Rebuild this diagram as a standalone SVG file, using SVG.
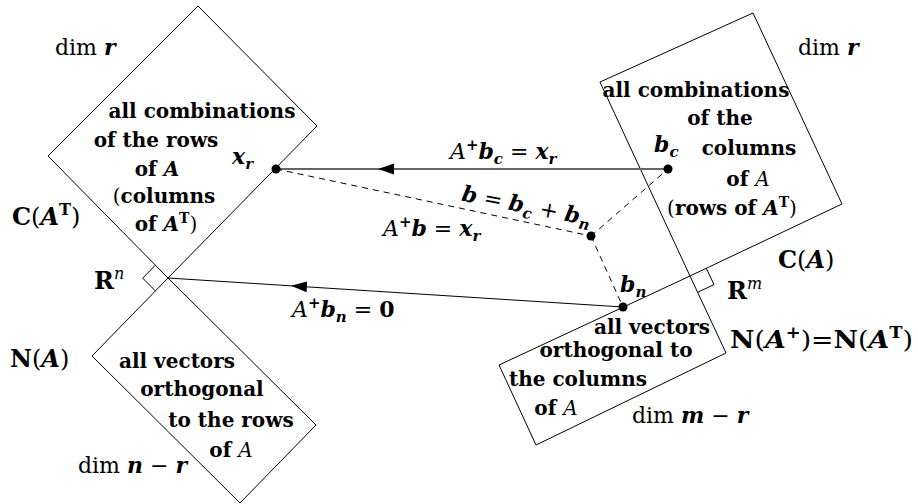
<svg xmlns="http://www.w3.org/2000/svg" width="918" height="504" viewBox="0 0 918 504">
<defs>
<style>
text{font-family:"DejaVu Serif","Liberation Serif",serif;font-size:20px;fill:#000}
.bx{font-weight:bold;text-anchor:middle}
.b{font-weight:bold}
.it{font-style:italic;font-weight:normal}
.bi{font-weight:bold;font-style:italic}
.rm{font-weight:normal;font-style:normal}
.s{font-size:14px}
.lab{font-size:24px;font-weight:bold}
.lab .s{font-size:16px}
.m{font-size:22px}
.m .s{font-size:15px}
.dim{font-size:22px}
.shape{fill:none;stroke:#000;stroke-width:1}
.conn{fill:none;stroke:#000;stroke-width:1}
.gray{stroke:#666;stroke-width:2}
.dash{fill:none;stroke:#000;stroke-width:1;stroke-dasharray:6 5}
.dot{fill:#000}
</style>
<marker id="arr" markerWidth="18" markerHeight="14" refX="16" refY="7" orient="auto" markerUnits="userSpaceOnUse">
<path d="M0,1.5 L16,7 L0,12.5 Z" fill="#000"/>
</marker>
</defs>
<rect width="918" height="504" fill="#fff"/>

<g id="row-space">
<polygon class="shape" points="198,6 317,126 168,278 48,156"/>
<text class="bx" x="202" y="118">all combinations</text>
<text class="bx" x="156" y="147">of the rows</text>
<text class="bx" x="157" y="176">of <tspan class="bi">A</tspan></text>
<text class="bx" x="164" y="203"><tspan class="rm">(</tspan>columns</text>
<text class="bx" x="166" y="231">of <tspan class="bi">A</tspan><tspan class="s" dy="-8">T</tspan><tspan class="rm" dy="8">)</tspan></text>
<text class="dim" x="55" y="55">dim <tspan class="bi">r</tspan></text>
<text class="lab" x="12" y="225">C<tspan class="rm">(</tspan><tspan class="bi">A</tspan><tspan class="s" dy="-10">T</tspan><tspan class="rm" dy="10">)</tspan></text>
</g>

<g id="null-space">
<polygon class="shape" points="168,278 316,425 240,503 92,356"/>
<polyline class="shape" points="155.4,265.2 142.7,278.2 155.4,290.9"/>
<text class="bx" x="177" y="368">all vectors</text>
<text class="bx" x="202" y="396">orthogonal</text>
<text class="bx" x="231" y="427">to the rows</text>
<text class="bx" x="231" y="457">of <tspan class="it">A</tspan></text>
<text class="dim" x="78" y="473">dim <tspan class="bi">n</tspan> − <tspan class="bi">r</tspan></text>
<text class="lab" x="10" y="367">N<tspan class="rm">(</tspan><tspan class="bi">A</tspan><tspan class="rm">)</tspan></text>
<text class="lab" x="94" y="289">R<tspan class="it s" dy="-10">n</tspan></text>
</g>

<g id="column-space">
<polygon class="shape" points="600,82 753,13 842,204 690,276"/>
<text class="bx" x="696" y="97">all combinations</text>
<text class="bx" x="720" y="125">of the</text>
<text class="bx" x="749" y="155">columns</text>
<text class="bx" x="748" y="186">of <tspan class="it">A</tspan></text>
<text class="bx" x="732" y="215"><tspan class="rm">(</tspan>rows of <tspan class="bi">A</tspan><tspan class="s" dy="-8">T</tspan><tspan class="rm" dy="8">)</tspan></text>
<text class="dim" x="798" y="55">dim <tspan class="bi">r</tspan></text>
<text class="lab" x="778" y="268">C<tspan class="rm">(</tspan><tspan class="bi">A</tspan><tspan class="rm">)</tspan></text>
</g>

<g id="left-null-space">
<polygon class="shape" points="690,276 726,353 536,445 499,365"/>
<polyline class="shape" points="706.3,268.3 714,284.6 697.6,292.3"/>
<text class="bx" x="652" y="334">all vectors</text>
<text class="bx" x="616" y="357">orthogonal to</text>
<text class="bx" x="578" y="386">the columns</text>
<text class="bx" x="556" y="415">of <tspan class="it">A</tspan></text>
<text class="dim" x="632" y="423">dim <tspan class="bi">m</tspan> − <tspan class="bi">r</tspan></text>
<text class="lab" x="727" y="299">R<tspan class="it s" dy="-10">m</tspan></text>
<text class="lab" x="730" y="348" textLength="183" lengthAdjust="spacingAndGlyphs">N<tspan class="rm">(</tspan><tspan class="bi">A</tspan><tspan class="s" dy="-10">+</tspan><tspan class="rm" dy="10">)=</tspan>N<tspan class="rm">(</tspan><tspan class="bi">A</tspan><tspan class="s" dy="-10">T</tspan><tspan class="rm" dy="10">)</tspan></text>
</g>

<g id="connectors">
<path class="conn gray" d="M668,169 L378,169 L276,169" marker-mid="url(#arr)"/>
<path class="conn" d="M623,307 L291,285.84 L168,278" marker-mid="url(#arr)"/>
<path class="dash" d="M276,169 L591,236"/>
<path class="dash" d="M591,236 L668,169"/>
<path class="dash" d="M591,236 L623,307"/>
<text class="m" x="450" y="159"><tspan class="it">A</tspan><tspan class="b s" dy="-9">+</tspan><tspan class="bi" dy="9">b</tspan><tspan class="bi s" dy="5">c</tspan><tspan dy="-5"> = </tspan><tspan class="bi">x</tspan><tspan class="bi s" dy="5">r</tspan></text>
<text class="m" x="383" y="236"><tspan class="it">A</tspan><tspan class="b s" dy="-9">+</tspan><tspan class="bi" dy="9">b</tspan><tspan> = </tspan><tspan class="bi">x</tspan><tspan class="bi s" dy="5">r</tspan></text>
<text class="m" x="292" y="317"><tspan class="it">A</tspan><tspan class="b s" dy="-9">+</tspan><tspan class="bi" dy="9">b</tspan><tspan class="bi s" dy="5">n</tspan><tspan dy="-5"> = </tspan><tspan class="b">0</tspan></text>
<text class="m" x="525" y="213" text-anchor="middle" transform="rotate(11 525 213)"><tspan class="bi">b</tspan> = <tspan class="bi">b</tspan><tspan class="bi s" dy="5">c</tspan><tspan dy="-5"> + </tspan><tspan class="bi">b</tspan><tspan class="bi s" dy="5">n</tspan></text>
</g>

<g id="point-xr">
<circle class="dot" cx="276" cy="169" r="4.5"/>
<text class="m" x="232" y="164"><tspan class="bi">x</tspan><tspan class="bi s" dy="5">r</tspan></text>
</g>
<g id="point-bc">
<circle class="dot" cx="668" cy="169" r="4.5"/>
<text class="m" x="654" y="152"><tspan class="bi">b</tspan><tspan class="bi s" dy="5">c</tspan></text>
</g>
<g id="point-b">
<circle class="dot" cx="591" cy="236" r="4.5"/>
</g>
<g id="point-bn">
<circle class="dot" cx="623" cy="307" r="4.5"/>
<text class="m" x="620" y="292"><tspan class="bi">b</tspan><tspan class="bi s" dy="5">n</tspan></text>
</g>
</svg>
